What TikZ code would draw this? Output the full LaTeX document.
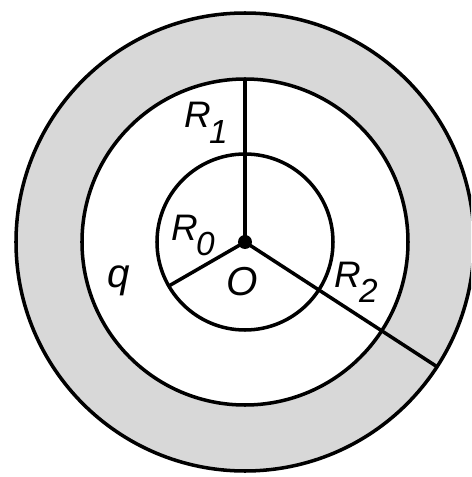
\documentclass[tikz,border=0pt]{standalone}
\usepackage{fontspec}
\setmainfont{Liberation Sans}
\usetikzlibrary{positioning, calc}
\definecolor{ShellGray}{HTML}{D8D8D8}

% radius label: italic R with a lowered index
\newcommand{\radlabel}[1]{\textit{R}\kern-0.05em\raisebox{-0.42em}{\fontsize{19}{19}\selectfont\itshape #1}}

\begin{document}
\begin{tikzpicture}[
    x=0.02cm, y=0.02cm,
    ring/.style={line width=2pt},
    lbl/.style={inner sep=0pt, font=\fontsize{21}{23}\selectfont},
    big/.style={inner sep=0pt, font=\fontsize{23}{25}\selectfont\itshape}
]
\useasboundingbox (-245,-235) rectangle (226,242);
\clip (-245,-235) rectangle (226,242);

\coordinate (O) at (0,0);

% charged shell between R1 and R2
\fill[ShellGray, even odd rule] (O) circle (229) (O) circle (163);
\draw[ring] (O) circle (229);
\draw[ring] (O) circle (163);
\draw[ring] (O) circle (88);

\coordinate (top1) at (90:163);
\coordinate (edge0) at (210:88);
\coordinate (edge2) at (-33:229);

\draw[ring] (O) -- (top1);
\draw[ring] (O) -- (edge0);
\draw[ring] (O) -- (edge2);
\fill (O) circle (7);

\node[lbl, anchor=base west] (lblR1) at (-61,114) {\radlabel{1}};
\node[lbl, anchor=base west] (lblR0) at (-74,2) {\radlabel{0}};
\node[lbl, anchor=base west] (lblR2) at (89,-45) {\radlabel{2}};
\node[big, anchor=base west] (lblq) at (-138,-45) {q};
\node[big] (lblO) at (-3,-40) {O};

\end{tikzpicture}
\end{document}
